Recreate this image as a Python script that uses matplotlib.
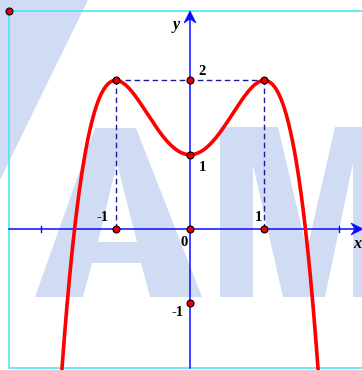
import numpy as np
import matplotlib
matplotlib.use("Agg")
import matplotlib.pyplot as plt
from matplotlib.patches import Polygon
from matplotlib.transforms import Affine2D

# ---- data ----
poly_coeffs = [-1, 0, 2, 0, 1]          # y = -x^4 + 2x^2 + 1
point_x = [-1, 0, 1, 0, 0, 0, -1, 1]
point_y = [0, 0, 0, -1, 1, 2, 2, 2]
tick_x = [-2, 2]
x_label_vals = [-1, 1]
x_label_txt = ["-1", "1"]
y_label_vals = [2, 1, -1]
y_label_txt = ["2", "1", "-1"]

# ---- geometry (pixels) ----
W, H = 362, 370
S = 74.3
OX, OY = 190, 229

def px2x(p):
    return (p - OX) / S

def px2y(p):
    return (OY - p) / S

fig = plt.figure(figsize=(W / 100, H / 100), dpi=100)
ax = fig.add_axes([0, 0, 1, 1])
ax.set_xlim(px2x(0), px2x(W))
ax.set_ylim(px2y(H), px2y(0))
ax.axis("off")

# ---- watermark (pixel coordinates) ----
ptrans = Affine2D().scale(1 / W, -1 / H).translate(0, 1) + ax.transAxes
wm = "#CFDCF4"
stripe = [(0, 0), (88, 0), (0, 180)]
a_outer = [(35, 297), (95, 128), (136, 128), (202, 297), (150, 297),
           (141, 263), (92, 263), (83, 297)]
a_hole = [(117, 163), (137, 242), (98, 242)]
m_shape = [(220, 297), (220, 127), (278, 127), (307, 250), (335, 127),
           (375, 127), (375, 297), (353, 297), (353, 163), (325, 297),
           (283, 297), (253, 165), (253, 297)]
for pts, col in [(stripe, wm), (a_outer, wm), (a_hole, "white"), (m_shape, wm)]:
    ax.add_patch(Polygon(pts, closed=True, facecolor=col, edgecolor="none",
                         transform=ptrans, zorder=0 if col == wm else 0.5))

# ---- frame ----
fx0, fy0, fy1 = px2x(9), px2y(11), px2y(368)
fx1 = px2x(W + 5)
ax.plot([fx1, fx0, fx0, fx1], [fy0, fy0, fy1, fy1], color="#3FE6F2",
        lw=1.1, zorder=1, clip_on=False)

# ---- axes ----
blue = "#0A0AFF"
x_tip = px2x(363)
y_tip = px2y(11)
ax.plot([fx0, x_tip - 8 / S], [0, 0], color=blue, lw=1.1, zorder=2)
ax.plot([0, 0], [fy1, y_tip - 8 / S], color=blue, lw=1.1, zorder=2)
# arrowheads (stealth shape)
L, Wd, N = 12 / S, 6 / S, 8 / S
ax.add_patch(Polygon([(x_tip, 0), (x_tip - L, Wd), (x_tip - N, 0), (x_tip - L, -Wd)],
                     closed=True, facecolor=blue, edgecolor=blue, lw=0.5, zorder=3))
ax.add_patch(Polygon([(0, y_tip), (Wd, y_tip - L), (0, y_tip - N), (-Wd, y_tip - L)],
                     closed=True, facecolor=blue, edgecolor=blue, lw=0.5, zorder=3))
for t in tick_x:
    ax.plot([t, t], [-3 / S, 3 / S], color=blue, lw=1.0, zorder=2)

# ---- dashed guides ----
navy = "#1C1C9A"
dash = dict(color=navy, lw=1.0, linestyle=(0, (4, 2.5)), zorder=2)
ax.plot([-1, -1], [0, 2], **dash)
ax.plot([1, 1], [0, 2], **dash)
ax.plot([-1, 1], [2, 2], **dash)

# ---- curve ----
xs = np.linspace(px2x(60), px2x(320), 600)
ys = np.polyval(poly_coeffs, xs)
ax.plot(xs, ys, color="#FF0000", lw=2.6, zorder=4, solid_capstyle="butt")

# ---- points ----
ax.plot(point_x, point_y, "o", ms=5, mfc="#E00000", mec="black", mew=0.8, zorder=5)
ax.plot([fx0], [fy0], "o", ms=5, mfc="#E00000", mec="black", mew=0.8, zorder=5,
        clip_on=False)

# ---- labels ----
fp = dict(family="Liberation Serif", fontweight="bold", fontsize=10.5,
          color="black", zorder=6)
ax.text(px2x(184), px2y(243), "0", ha="center", va="center", **fp)
for v, t in zip(x_label_vals, x_label_txt):
    off = -13 if v < 0 else -6
    ax.text(v + off / S, 11 / S, t, ha="center", va="center", **fp)
y_off = {2: (12, 9), 1: (12, -13), -1: (-12, -9)}
for v, t in zip(y_label_vals, y_label_txt):
    dx, dy = y_off[v]
    ax.text(dx / S, v + dy / S, t, ha="center", va="center", **fp)
ax.text(px2x(176), px2y(25), "y", ha="center", va="center", style="italic",
        **{**fp, "fontsize": 11.5})
ax.text(px2x(357), px2y(244), "x", ha="center", va="center", style="italic",
        **{**fp, "fontsize": 11.5})

fig.savefig("out.png", dpi=100)
